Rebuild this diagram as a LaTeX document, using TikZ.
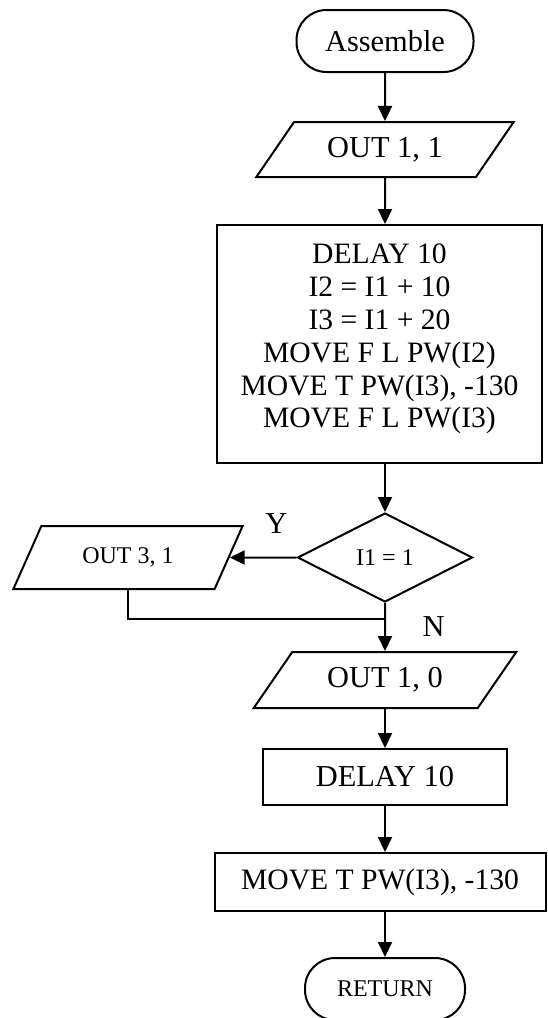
\documentclass[tikz,border=0pt]{standalone}
\usepackage{xcolor}
\usepackage{fontspec}
\setmainfont{Liberation Serif}
\usepackage{tikz}
\usetikzlibrary{shapes.geometric, arrows.meta, positioning}

\begin{document}
\begin{tikzpicture}[>={Triangle[length=7.5pt,width=7pt]}, line width=1pt, on grid,
        every node/.style={font=\fontsize{15.2}{16.4}\selectfont},
        small/.style={font=\fontsize{12}{13}\selectfont},
        terminal/.style={draw, rectangle, rounded corners=15pt, minimum height=31pt, inner sep=0pt},
        io/.style={draw, trapezium, trapezium left angle=46, trapezium right angle=134,
            trapezium stretches=true, inner sep=0pt},
        process/.style={draw, rectangle, align=center, inner sep=0pt},
        decision/.style={draw, diamond, aspect=1.95, inner sep=0pt}]
        \useasboundingbox (0,0) rectangle (273.5pt,-509pt);

        \node[terminal, minimum width=88.5pt] (assemble) at (192.5pt,-20.5pt) {Assemble};
        \node[io, minimum width=129pt, minimum height=27.5pt] (out11) [below=54.25pt of assemble] {OUT 1, 1};
        \node[process, font=\fontsize{14.8}{16.4}\selectfont, minimum width=162.5pt, minimum height=119pt, text depth=8pt]
            (calc) [below=97.25pt of out11, xshift=-2.75pt]
            {DELAY 10\\ I2 = I1 + 10\\ I3 = I1 + 20\\ MOVE F L PW(I2)\\ MOVE T PW(I3), -130\\ MOVE F L PW(I3)};
        \node[decision, small, minimum width=87.5pt, minimum height=44.5pt] (dec) [below=106.75pt of calc, xshift=2.75pt] {I1 = 1};
        \node[io, small, trapezium left angle=53, trapezium right angle=127,
            minimum width=115pt, minimum height=31.5pt] (out31) [left=128.5pt of dec] {OUT 3, 1};
        \coordinate[below=30.75pt of dec] (join);
        \node[io, minimum width=131.5pt, minimum height=28pt] (out10) [below=61.25pt of dec] {OUT 1, 0};
        \node[process, minimum width=122pt, minimum height=28pt] (delay) [below=48.5pt of out10] {DELAY 10};
        \node[process, font=\fontsize{14.8}{16.4}\selectfont, minimum width=165.5pt, minimum height=29pt]
            (move) [below=52.5pt of delay, xshift=-2.5pt] {MOVE T PW(I3), -130};
        \node[terminal, small, minimum width=80pt] (ret) [below=53.5pt of move, xshift=2.5pt] {RETURN};

        \path[->]
        (assemble) edge (out11)
        (out11) edge (out11 |- calc.north)
        (dec |- calc.south) edge (dec)
        (dec) edge node[above=8pt, pos=0.3] {Y} (out31)
        (dec) edge node[right=15pt] {N} (out10)
        (out10) edge (delay)
        (delay) edge (delay |- move.north)
        (ret |- move.south) edge (ret);

        \draw (out31.south) |- (join);

    \end{tikzpicture}
\end{document}
